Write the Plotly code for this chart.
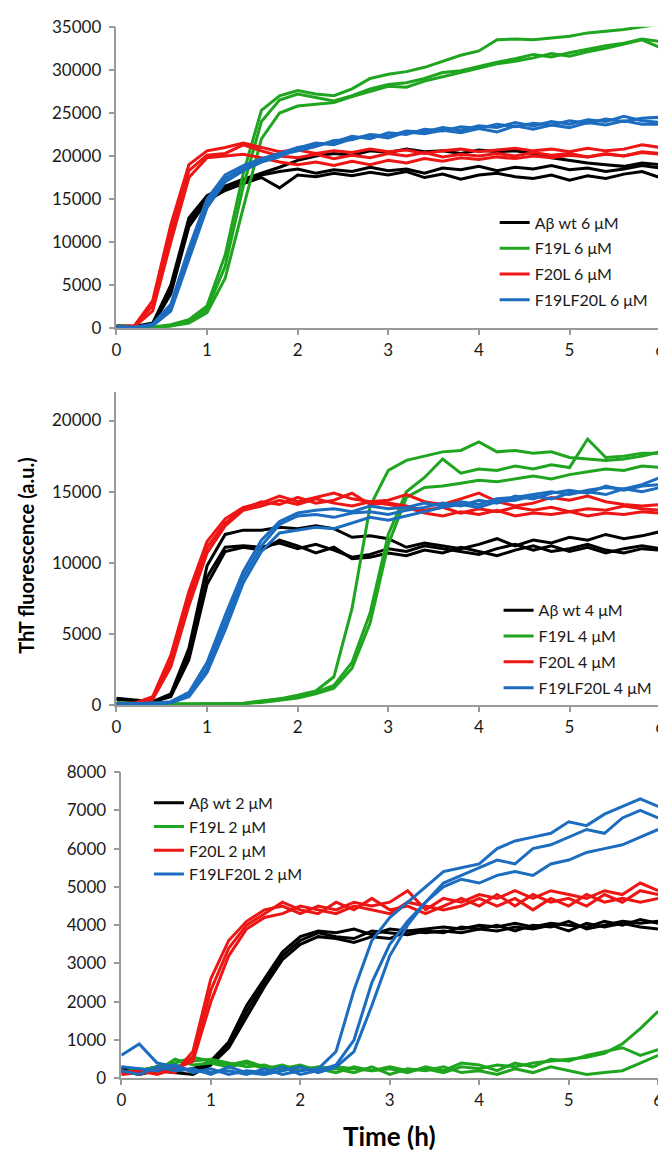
import plotly.graph_objects as go

# Time (h)
T = [0.0, 0.2, 0.4, 0.6, 0.8, 1.0, 1.2, 1.4, 1.6, 1.8, 2.0, 2.2, 2.4, 2.6, 2.8, 3.0,
     3.2, 3.4, 3.6, 3.8, 4.0, 4.2, 4.4, 4.6, 4.8, 5.0, 5.2, 5.4, 5.6, 5.8, 6.0]

# ---------------- 6 uM ----------------
wt6 = [
    [300, 200, 600, 5000, 12800, 15400, 16500, 17300, 18000, 18700, 19500, 20000, 20300, 20100, 20600, 20400, 20800, 20500, 20600, 20300, 20700, 20500, 20600, 20300, 19800, 19500, 19200, 19000, 18800, 19200, 19000],
    [250, 150, 500, 4500, 12300, 15000, 16200, 17000, 17800, 18200, 18500, 18000, 18400, 18200, 18700, 18300, 18500, 18000, 18600, 18400, 18800, 18300, 18700, 18500, 18900, 18400, 18600, 18200, 18500, 18900, 18600],
    [200, 100, 400, 4000, 11800, 14800, 16000, 16800, 17500, 16300, 17800, 17600, 18000, 17700, 18100, 17800, 18200, 17500, 17900, 17300, 17800, 18000, 17600, 17400, 17800, 17200, 17700, 17400, 17900, 18200, 17500],
]
f19l6 = [
    [300, 200, 150, 400, 1000, 2600, 8500, 18000, 25300, 27000, 27600, 27200, 27000, 27800, 29000, 29500, 29800, 30300, 31000, 31700, 32200, 33500, 33600, 33500, 33700, 33900, 34300, 34500, 34700, 35000, 35300],
    [250, 150, 100, 300, 800, 2200, 7200, 16500, 24000, 26500, 27200, 26800, 26400, 27000, 27800, 28300, 28500, 29000, 29700, 29900, 30400, 30900, 31300, 31800, 31500, 32000, 32400, 32800, 33100, 33600, 33300],
    [200, 150, 100, 250, 600, 1800, 5800, 14000, 22000, 25000, 25800, 26000, 26200, 26900, 27500, 28100, 28000, 28700, 29200, 29700, 30200, 30700, 31000, 31400, 31900, 31600, 32100, 32500, 33000, 33500, 32600],
]
f20l6 = [
    [200, 300, 3200, 12000, 19000, 20600, 21000, 21500, 21000, 20500, 20700, 20300, 20600, 20400, 20800, 20500, 20700, 20300, 20600, 20800, 20500, 20700, 20900, 20600, 20800, 20500, 20900, 20600, 20800, 21300, 21000],
    [150, 250, 2600, 11000, 18300, 20100, 20300, 21300, 20600, 20000, 19800, 20200, 19700, 20100, 19800, 20300, 20000, 20400, 19900, 20200, 20000, 20300, 20000, 20400, 20100, 20300, 19900, 20200, 20000, 20500, 20300],
    [100, 200, 2000, 10000, 17500, 19800, 20000, 20200, 19800, 19300, 19000, 19300, 18900, 19400, 19000, 19500, 19200, 19700, 19400, 19800, 19600, 19900, 19700, 20000, 19800, 20100, 19900, 20300, 20000, 20400, 20200],
]
f19lf20l6 = [
    [200, 100, 500, 2800, 9300, 15000, 17800, 18900, 19700, 20300, 21000, 21300, 21600, 22300, 22000, 22700, 22500, 23100, 22900, 23400, 23200, 23700, 23400, 23800, 23600, 24100, 23800, 24300, 24000, 24400, 24500],
    [150, 100, 400, 2400, 8600, 14500, 17400, 18600, 19500, 20100, 20600, 21100, 21800, 21900, 22500, 22300, 22900, 22800, 23300, 23000, 23500, 23300, 23900, 23500, 24000, 23700, 24200, 24000, 24600, 24100, 23900],
    [100, 150, 300, 2000, 8000, 14000, 17000, 18300, 19300, 19900, 20900, 21500, 21300, 22000, 22400, 22100, 22800, 22600, 23000, 22700, 23200, 22800, 23500, 23100, 23600, 23300, 23900, 23600, 24100, 23700, 23700],
]

# ---------------- 4 uM ----------------
wt4 = [
    [500, 350, 250, 800, 4000, 9800, 12000, 12300, 12300, 12500, 12400, 12600, 12400, 11800, 11900, 11700, 11100, 11400, 11200, 11000, 11300, 11700, 11200, 11600, 11400, 11800, 11600, 12000, 11700, 11900, 12200],
    [450, 300, 200, 700, 3600, 9000, 11100, 11200, 11100, 11400, 11000, 11300, 10900, 10400, 10600, 11000, 10800, 11200, 11000, 10800, 10600, 11000, 11300, 10900, 11200, 10800, 11100, 10700, 11000, 11200, 11000],
    [400, 300, 250, 600, 3200, 8500, 10800, 11100, 10900, 11600, 11200, 10700, 11100, 10300, 10400, 10700, 10500, 10900, 10700, 11100, 10800, 10500, 10900, 11200, 10800, 11000, 11300, 10900, 10700, 11000, 10900],
]
f19l4 = [
    [200, 100, 150, 100, 50, 100, 80, 150, 300, 450, 700, 1000, 2000, 6800, 14000, 16500, 17200, 17500, 17800, 17900, 18500, 17800, 17900, 17700, 17800, 17400, 17300, 17200, 17300, 17500, 17800],
    [150, 120, 100, 80, 100, 60, 120, 100, 250, 400, 600, 900, 1400, 3000, 6500, 12000, 15000, 16000, 17300, 16300, 16600, 16500, 16800, 16600, 16900, 16700, 18700, 17400, 17500, 17700, 17700],
    [100, 80, 120, 60, 80, 100, 50, 120, 200, 350, 500, 800, 1200, 2600, 5800, 11300, 14600, 15300, 15400, 15600, 15800, 15700, 15900, 16100, 15900, 16200, 16400, 16600, 16500, 16800, 16700],
]
f20l4 = [
    [100, 150, 600, 3500, 8000, 11500, 13100, 13900, 14200, 14700, 14300, 14600, 14900, 14500, 14300, 14400, 14800, 14300, 14100, 14500, 14900, 14300, 14000, 14200, 14600, 14400, 14700, 14300, 14100, 14000, 14100],
    [80, 120, 500, 3100, 7500, 11100, 12800, 13800, 14300, 14100, 14600, 14200, 14400, 14900, 14100, 14200, 14000, 13700, 13900, 13500, 13800, 13600, 13900, 13700, 13900, 13600, 13800, 13700, 14000, 13800, 13700],
    [60, 100, 400, 2700, 7000, 10700, 12600, 13700, 14000, 14400, 14100, 14500, 14200, 14000, 14300, 14100, 13900, 13500, 13300, 13600, 13400, 13700, 13300, 13500, 13400, 13600, 13300, 13500, 13400, 13600, 13500],
]
f19lf20l4 = [
    [100, 100, 150, 250, 900, 3000, 6300, 9400, 11600, 12900, 13500, 13700, 13800, 13600, 14000, 13800, 13900, 14200, 14000, 14300, 14100, 14500, 14600, 14800, 15000, 14800, 15100, 15300, 15200, 15500, 16000],
    [80, 60, 120, 200, 700, 2600, 5800, 9000, 11200, 12700, 13300, 13400, 13200, 13500, 13600, 13400, 13700, 13900, 14200, 14000, 14400, 14200, 14700, 14500, 14900, 15100, 14900, 15400, 15100, 15400, 15500],
    [60, 80, 100, 180, 600, 2300, 5300, 8600, 10800, 12100, 12300, 12500, 12400, 12800, 13200, 13000, 13300, 13600, 13900, 14100, 13900, 14300, 14400, 14700, 14500, 14900, 15000, 14800, 15200, 15000, 15300],
]

# ---------------- 2 uM ----------------
wt2 = [
    [300, 200, 300, 200, 250, 450, 950, 1900, 2600, 3300, 3700, 3850, 3800, 3900, 3750, 3900, 3850, 3900, 3950, 3900, 4000, 3950, 4050, 3950, 4050, 4000, 3950, 4100, 4000, 4150, 4050],
    [250, 150, 250, 300, 200, 400, 850, 1750, 2500, 3200, 3600, 3800, 3700, 3650, 3850, 3800, 3750, 3850, 3800, 3950, 3900, 4000, 3850, 4000, 3950, 4100, 3900, 4000, 4100, 4050, 4100],
    [200, 100, 200, 150, 100, 350, 800, 1600, 2400, 3100, 3500, 3700, 3650, 3550, 3700, 3650, 3850, 3800, 3850, 3800, 3900, 3850, 3950, 3900, 4000, 3850, 4050, 3950, 4050, 3950, 3900],
]
f19l2 = [
    [100, 200, 300, 400, 550, 450, 350, 450, 300, 250, 350, 200, 300, 250, 200, 300, 200, 250, 150, 300, 250, 350, 300, 400, 450, 500, 550, 650, 900, 1300, 1750],
    [200, 100, 250, 300, 450, 500, 400, 300, 350, 200, 300, 250, 150, 300, 200, 250, 150, 300, 200, 400, 350, 200, 400, 300, 500, 450, 600, 700, 800, 600, 750],
    [150, 250, 200, 500, 350, 400, 300, 400, 250, 350, 200, 300, 250, 150, 300, 100, 250, 200, 300, 150, 200, 100, 250, 150, 300, 200, 100, 150, 200, 400, 600],
]
f20l2 = [
    [100, 150, 200, 150, 700, 2600, 3600, 4100, 4400, 4500, 4300, 4500, 4400, 4600, 4500, 4600, 4900, 4400, 4700, 4600, 4800, 4700, 4900, 4700, 4900, 4800, 4700, 4900, 4800, 5100, 4900],
    [200, 100, 250, 200, 550, 2300, 3400, 4000, 4300, 4600, 4400, 4300, 4600, 4400, 4700, 4400, 4500, 4300, 4500, 4700, 4500, 4800, 4500, 4800, 4600, 4700, 4500, 4800, 4600, 4900, 4800],
    [150, 200, 100, 250, 450, 2000, 3200, 3900, 4200, 4300, 4500, 4400, 4300, 4500, 4400, 4300, 4600, 4500, 4400, 4500, 4700, 4500, 4700, 4400, 4700, 4500, 4800, 4600, 4700, 4600, 4700],
]
f19lf20l2 = [
    [600, 900, 400, 300, 200, 150, 200, 100, 250, 100, 200, 250, 700, 2300, 3600, 4200, 4600, 5000, 5400, 5500, 5600, 6000, 6200, 6300, 6400, 6700, 6600, 6900, 7100, 7300, 7100],
    [300, 250, 200, 350, 150, 250, 100, 200, 150, 300, 100, 200, 350, 1000, 2500, 3500, 4100, 4600, 5100, 5300, 5500, 5700, 5600, 6000, 6100, 6300, 6500, 6400, 6800, 7000, 6800],
    [200, 100, 300, 200, 250, 100, 300, 150, 100, 200, 300, 150, 300, 700, 1900, 3200, 4000, 4600, 5000, 5200, 5100, 5300, 5400, 5300, 5600, 5700, 5900, 6000, 6100, 6300, 6500],
]

NAMES = ["A\u03b2 wt", "F19L", "F20L", "F19LF20L"]
COLORS = ["#000000", "#1fa51f", "#ee1515", "#1c6dbf"]

panels = [
    ("6 \u03bcM", [wt6, f19l6, f20l6, f19lf20l6], "x", "y", "legend"),
    ("4 \u03bcM", [wt4, f19l4, f20l4, f19lf20l4], "x2", "y2", "legend2"),
    ("2 \u03bcM", [wt2, f19l2, f20l2, f19lf20l2], "x3", "y3", "legend3"),
]

fig = go.Figure()
for conc, groups, xa, ya, lg in panels:
    for name, color, reps in zip(NAMES, COLORS, groups):
        for i, rep in enumerate(reps):
            fig.add_trace(go.Scatter(
                x=T, y=rep, mode="lines", xaxis=xa, yaxis=ya,
                line=dict(color=color, width=3),
                name=f"{name} {conc}", legendgroup=f"{lg}-{name}",
                showlegend=(i == 0), legend=lg,
            ))

W, H = 666, 1152
FONT = "Lato, 'Open Sans', sans-serif"
AX = "#9a9a9a"
TICKF = dict(family=FONT, size=17, color="#1a1a1a")

def xax(x0, x1, anchor):
    return dict(domain=[x0 / W, x1 / W], anchor=anchor, range=[0, 6], dtick=1, tick0=0,
                showgrid=False, zeroline=False, showline=True, linecolor=AX, linewidth=1.5,
                ticks="outside", ticklen=5, tickcolor=AX, tickwidth=1.5, tickfont=TICKF,
                ticklabelstandoff=1)

def yax(ytop, ybot, rmax, dt, anchor):
    return dict(domain=[1 - ybot / H, 1 - ytop / H], anchor=anchor, range=[0, rmax], dtick=dt, tick0=0,
                showgrid=False, zeroline=False, showline=True, linecolor=AX, linewidth=1.5,
                ticks="outside", ticklen=6, tickcolor=AX, tickwidth=1.5, tickfont=TICKF,
                tickformat="d", ticklabelstandoff=4)

def leg(xpx, ypx, gap):
    return dict(x=xpx / W, y=1 - ypx / H, xanchor="left", yanchor="top",
                bgcolor="rgba(0,0,0,0)", borderwidth=0, itemwidth=30,
                tracegroupgap=gap, font=dict(family=FONT, size=16, color="#1a1a1a"))

fig.update_layout(
    width=W, height=H, margin=dict(l=0, r=0, t=0, b=0),
    paper_bgcolor="white", plot_bgcolor="white",
    xaxis=xax(105, 657, "y"), yaxis=yax(8, 315, 35000, 5000, "x"),
    xaxis2=xax(105, 657, "y2"), yaxis2=yax(380, 699, 22000, 5000, "x2"),
    xaxis3=xax(110, 655, "y3"), yaxis3=yax(767, 1079, 8000, 1000, "x3"),
    legend=leg(489, 190, 2), legend2=leg(493, 585, 2), legend3=leg(138, 781, 0),
    annotations=[
        dict(text="<b>ThT fluorescence (a.u.)</b>", x=13 / W, y=1 - 546 / H, xref="paper", yref="paper",
             textangle=-90, showarrow=False, xanchor="center", yanchor="middle",
             font=dict(family=FONT, size=20, color="#000000")),
        dict(text="<b>Time (h)</b>", x=382 / W, y=1 - 1138 / H, xref="paper", yref="paper",
             showarrow=False, xanchor="center", yanchor="middle",
             font=dict(family=FONT, size=26, color="#000000")),
    ],
)

fig.write_html("out.html")
